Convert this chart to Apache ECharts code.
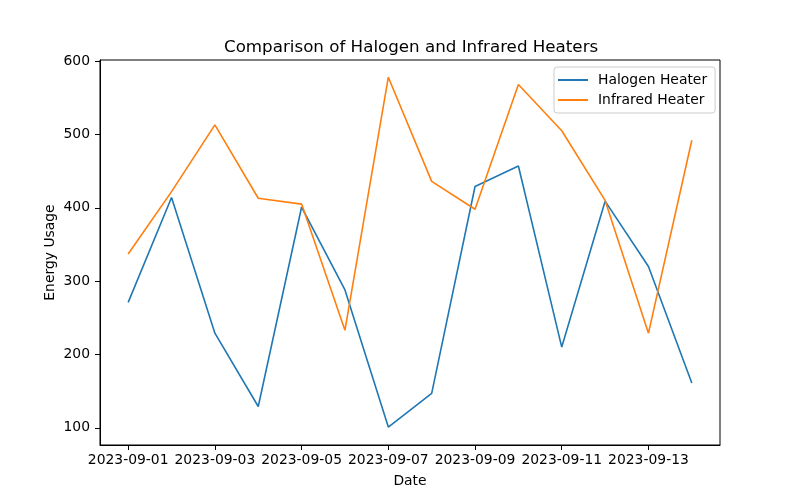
<!DOCTYPE html>
<html>
<head>
<meta charset="utf-8">
<script src="https://cdn.jsdelivr.net/npm/echarts@6/dist/echarts.min.js"></script>
<style>
  html, body { margin: 0; padding: 0; background: #fff; }
  #chart { width: 800px; height: 500px; }
</style>
</head>
<body>
<div id="chart"></div>
<script>
// data
var dates = ['2023-09-01', '2023-09-02', '2023-09-03', '2023-09-04', '2023-09-05', '2023-09-06', '2023-09-07',
             '2023-09-08', '2023-09-09', '2023-09-10', '2023-09-11', '2023-09-12', '2023-09-13', '2023-09-14'];
var halogen = [271, 414, 229, 129, 401, 288, 101, 147, 429, 457, 210, 409, 320, 161];
var infrared = [337, 422, 513, 413, 405, 233, 578, 436, 398, 568, 505, 410, 229, 492];
var xTicks = [0, 2, 4, 6, 8, 10, 12];
var yTicks = [100, 200, 300, 400, 500, 600];

function pairs(vals) {
  return vals.map(function (v, i) { return [i, v]; });
}

var font = 'DejaVu Sans';
var chart = echarts.init(document.getElementById('chart'));
chart.setOption({
  animation: false,
  textStyle: { fontFamily: font },
  title: {
    text: 'Comparison of Halogen and Infrared Heaters',
    left: 219, top: 34,
    textStyle: { fontFamily: font, fontSize: 16.7, fontWeight: 'normal', color: '#000' }
  },
  legend: {
    orient: 'vertical',
    left: 554, top: 67,
    padding: [6, 8, 6, 4],
    itemGap: 6,
    itemWidth: 30, itemHeight: 2,
    icon: 'rect',
    borderColor: '#ccc', borderWidth: 1, borderRadius: 3,
    backgroundColor: 'rgba(255,255,255,0.8)',
    textStyle: { fontFamily: font, fontSize: 13.9, color: '#000', padding: [0, 0, 0, 5] },
    data: ['Halogen Heater', 'Infrared Heater']
  },
  grid: {
    left: 100, right: 80, top: 60, bottom: 55,
    show: true, borderColor: '#000', borderWidth: 1
  },
  xAxis: {
    type: 'value',
    min: -0.65, max: 13.65,
    name: 'Date', nameLocation: 'middle', nameGap: 29,
    nameTextStyle: { fontFamily: font, fontSize: 13.9, color: '#000' },
    splitLine: { show: false },
    axisLine: { onZero: false, lineStyle: { color: '#000' } },
    axisTick: { length: 5, lineStyle: { color: '#000' }, customValues: xTicks },
    axisLabel: {
      customValues: xTicks, margin: 8,
      fontFamily: font, fontSize: 13.9, color: '#000',
      formatter: function (v) { return dates[Math.round(v)]; }
    }
  },
  yAxis: {
    type: 'value',
    min: 76.5, max: 601.5,
    name: 'Energy Usage', nameLocation: 'middle', nameGap: 43,
    nameMoveOverlap: false,
    nameTextStyle: { fontFamily: font, fontSize: 13.9, color: '#000' },
    splitLine: { show: false },
    axisLine: { show: true, onZero: false, lineStyle: { color: '#000' } },
    axisTick: { show: true, length: 5, lineStyle: { color: '#000' }, customValues: yTicks },
    axisLabel: {
      customValues: yTicks, margin: 10,
      fontFamily: font, fontSize: 13.9, color: '#000'
    }
  },
  series: [
    {
      name: 'Halogen Heater', type: 'line', data: pairs(halogen),
      showSymbol: false, color: '#1f77b4',
      lineStyle: { width: 1.6, color: '#1f77b4' }
    },
    {
      name: 'Infrared Heater', type: 'line', data: pairs(infrared),
      showSymbol: false, color: '#ff7f0e',
      lineStyle: { width: 1.6, color: '#ff7f0e' }
    }
  ]
});
</script>
</body>
</html>
